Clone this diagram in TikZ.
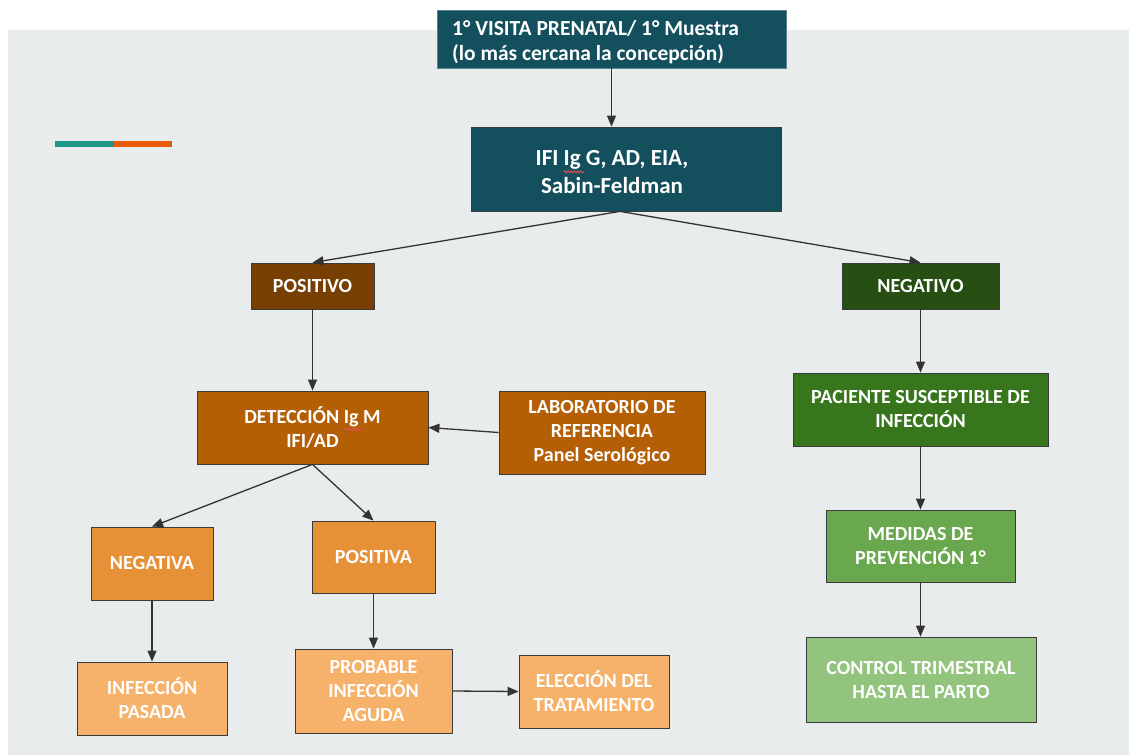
\documentclass[tikz,border=0pt]{standalone}
\usepackage{fontspec}
\setmainfont{Carlito}
\usetikzlibrary{arrows.meta,decorations.pathmorphing}
\definecolor{bgray}{HTML}{E8ECED}
\definecolor{cteal}{HTML}{134F5C}
\definecolor{cbrownd}{HTML}{783F04}
\definecolor{cgreend}{HTML}{274E13}
\definecolor{corange1}{HTML}{B45F06}
\definecolor{corange}{HTML}{E69138}
\definecolor{corangel}{HTML}{F6B26B}
\definecolor{cgreen1}{HTML}{38761D}
\definecolor{cgreen}{HTML}{6AA84F}
\definecolor{cgreenl}{HTML}{93C47D}
\definecolor{cborder}{HTML}{3A3A3A}
\definecolor{carrow}{HTML}{333333}
\definecolor{barteal}{HTML}{1E9784}
\definecolor{barorange}{HTML}{E85D04}
\definecolor{squigc}{HTML}{E05050}
\newcommand\spellerr[1]{\tikz[baseline=(sw.base)]{\node[inner sep=0pt,outer sep=0pt,minimum width=0pt,minimum height=0pt,draw=none,fill=none,text=white](sw){#1};\draw[overlay,squigc,line width=0.9pt,decorate,decoration={snake,amplitude=1.1pt,segment length=3.2pt}]([yshift=-2.5pt]sw.south west)--([xshift=3pt,yshift=-2.5pt]sw.south east);}}
\begin{document}
\begin{tikzpicture}[x=1pt,y=-1pt,
  box/.style={draw=cborder, line width=0.8pt, text=white, align=center, inner sep=0pt,
    font=\bfseries\fontsize{20}{24}\selectfont},
  boxtext/.style={text=white, inner sep=0pt},
  arr/.style={draw=carrow, line width=1.3pt, -{Triangle[length=11pt,width=9pt]}}]
\useasboundingbox (0,0) rectangle (1129,755);
\fill[white] (0,0) rectangle (1129,755);
\fill[bgray] (8,30) rectangle (1129,755);
\fill[barteal] (55,141) rectangle (114,147);
\fill[barorange] (114,141) rectangle (172,147);

\node[box, fill=cteal, draw=cteal!70!white, minimum width=349pt, minimum height=58pt] (top) at (611.5,39) {};
\node[boxtext, anchor=west, align=left, font=\bfseries\fontsize{21.5}{25}\selectfont] (toptext) at (452,42.5)
  {1° VISITA PRENATAL/ 1° Muestra\\(lo más cercana la concepción)};
\node[box, fill=cteal, minimum width=310pt, minimum height=84pt] (ifi) at (626,169) {};
\node[boxtext, align=center, font=\bfseries\fontsize{23}{28}\selectfont] (ifitext) at (612,172)
  {IFI \spellerr{Ig} G, AD, EIA,\\Sabin-Feldman};
\node[box, fill=cbrownd, minimum width=123pt, minimum height=46pt] (pos) at (312.5,286) {POSITIVO};
\node[box, fill=cgreend, minimum width=157pt, minimum height=46pt] (neg) at (920.5,286) {NEGATIVO};
\node[box, fill=corange1, minimum width=231pt, minimum height=73pt] (det) at (312.5,427.5)
  {DETECCIÓN \spellerr{Ig} M\\IFI/AD};
\node[box, fill=corange1, minimum width=206pt, minimum height=83pt] (lab) at (602,432.5)
  {LABORATORIO DE\\REFERENCIA\\Panel Serológico};
\node[box, fill=corange, minimum width=122pt, minimum height=73pt] (negativa) at (152,563.5) {NEGATIVA};
\node[box, fill=corange, minimum width=123pt, minimum height=72pt] (positiva) at (373.5,557) {POSITIVA};
\node[box, fill=corangel, minimum width=150pt, minimum height=73pt] (pasada) at (152,698.5)
  {INFECCIÓN\\PASADA};
\node[box, fill=corangel, minimum width=157pt, minimum height=84pt] (probable) at (373.5,691)
  {PROBABLE\\INFECCIÓN\\AGUDA};
\node[box, fill=corangel, minimum width=150pt, minimum height=73pt] (eleccion) at (594,691.5)
  {ELECCIÓN DEL\\TRATAMIENTO};
\node[box, fill=cgreen1, minimum width=255pt, minimum height=73pt] (paciente) at (920.5,409.5)
  {PACIENTE SUSCEPTIBLE DE\\INFECCIÓN};
\node[box, fill=cgreen, minimum width=189pt, minimum height=72pt] (medidas) at (920.5,546)
  {MEDIDAS DE\\PREVENCIÓN 1°};
\node[box, fill=cgreenl, minimum width=230pt, minimum height=85pt] (control) at (921,679.5)
  {CONTROL TRIMESTRAL\\HASTA EL PARTO};

\draw[arr] (top.south) -- (top.south |- ifi.north);
\draw[arr] ([xshift=-6pt]ifi.south) -- (pos.north);
\draw[arr] ([xshift=-6pt]ifi.south) -- (neg.north);
\draw[arr] (pos.south) -- (det.north);
\draw[arr] (lab.west) -- (det.east);
\draw[arr] (det.south) -- (negativa.north);
\draw[arr] (det.south) -- (positiva.north);
\draw[arr] (negativa.south) -- (pasada.north);
\draw[arr] (positiva.south) -- (probable.north);
\draw[arr] (probable.east) -- (eleccion.west);
\draw[arr] (neg.south) -- (paciente.north);
\draw[arr] (paciente.south) -- (medidas.north);
\draw[arr] (medidas.south) -- (control.north -| medidas.south);
\end{tikzpicture}
\end{document}
